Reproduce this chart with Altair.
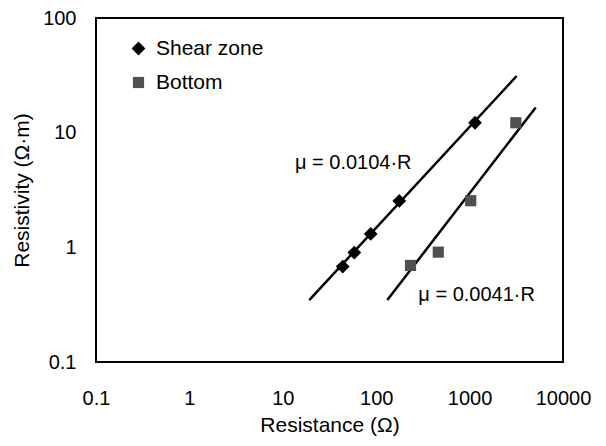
import altair as alt
import pandas as pd

# Data
shear_R = [43.8, 58.3, 87.3, 176.7, 1143]
shear_rho = [0.68, 0.90, 1.31, 2.54, 12.2]
bottom_R = [233, 462, 1028, 3126]
bottom_rho = [0.695, 0.908, 2.55, 12.2]

# Trend lines (end points)
shear_line_R = [19.2, 3192]
shear_line_rho = [0.347, 31.2]
bottom_line_R = [131.5, 5105]
bottom_line_rho = [0.347, 16.6]

# Annotations
ann_text = ["\u03bc = 0.0104\u00b7R", "\u03bc = 0.0041\u00b7R"]
ann_R = [13.5, 282.5]
ann_rho = [5.4, 0.384]

series_names = ["Shear zone", "Bottom"]

FONT = "Liberation Sans"

pts = pd.DataFrame({
    "R": shear_R + bottom_R,
    "rho": shear_rho + bottom_rho,
    "series": [series_names[0]] * len(shear_R) + [series_names[1]] * len(bottom_R),
})
lines = pd.DataFrame({
    "R": shear_line_R + bottom_line_R,
    "rho": shear_line_rho + bottom_line_rho,
    "series": [series_names[0]] * 2 + [series_names[1]] * 2,
})
ann = pd.DataFrame({"R": ann_R, "rho": ann_rho, "text": ann_text})

xscale = alt.Scale(type="log", domain=[0.1, 10000], nice=False)
yscale = alt.Scale(type="log", domain=[0.1, 100], nice=False)

xaxis = alt.Axis(
    title="Resistance (\u03a9)", values=[0.1, 1, 10, 100, 1000, 10000],
    labelExpr="datum.value >= 1 ? format(datum.value, 'd') : '0.1'",
    domain=False, ticks=False, grid=False, labelPadding=26,
    labelFontSize=20, titleFontSize=21, titlePadding=6,
    labelFont=FONT, titleFont=FONT, labelColor="black", titleColor="black",
    titleFontWeight="normal", labelFlush=False,
)
yaxis = alt.Axis(
    title="Resistivity (\u03a9\u00b7m)", values=[0.1, 1, 10, 100],
    labelExpr="datum.value >= 1 ? format(datum.value, 'd') : '0.1'",
    domain=False, ticks=False, grid=False, labelPadding=20,
    labelFontSize=20, titleFontSize=21, titlePadding=10,
    labelFont=FONT, titleFont=FONT, labelColor="black", titleColor="black",
    titleFontWeight="normal", labelFlush=False,
)

legend = alt.Legend(title=None, orient="none", legendX=32, legendY=20,
                    labelFontSize=21, labelFont=FONT, labelColor="black",
                    symbolSize=80, labelOffset=7, rowPadding=12,
                    padding=0, symbolStrokeWidth=0)

line_layer = alt.Chart(lines).mark_line(color="black", strokeWidth=2.5).encode(
    x=alt.X("R:Q", scale=xscale, axis=xaxis),
    y=alt.Y("rho:Q", scale=yscale, axis=yaxis),
    detail="series:N",
)

point_layer = alt.Chart(pts).mark_point(filled=True, opacity=1).encode(
    x=alt.X("R:Q", scale=xscale),
    y=alt.Y("rho:Q", scale=yscale),
    shape=alt.Shape("series:N", scale=alt.Scale(domain=series_names, range=["diamond", "square"]),
                    legend=legend),
    color=alt.Color("series:N", scale=alt.Scale(domain=series_names, range=["black", "#505050"]),
                    legend=legend),
    size=alt.Size("series:N", scale=alt.Scale(domain=series_names, range=[190, 125]),
                  legend=None),
)

text_layer = alt.Chart(ann).mark_text(align="left", baseline="middle", fontSize=20,
                                      font=FONT, color="black").encode(
    x=alt.X("R:Q", scale=xscale),
    y=alt.Y("rho:Q", scale=yscale),
    text="text:N",
)

chart = alt.layer(line_layer, point_layer, text_layer).properties(
    width=467, height=344,
    background="white",
    autosize=alt.AutoSizeParams(type="none"),
    padding={"left": 88, "top": 10, "right": 30, "bottom": 80},
).configure_view(stroke="black", strokeWidth=2)

chart.save("out.html", embed_options={"renderer": "svg", "actions": False})
